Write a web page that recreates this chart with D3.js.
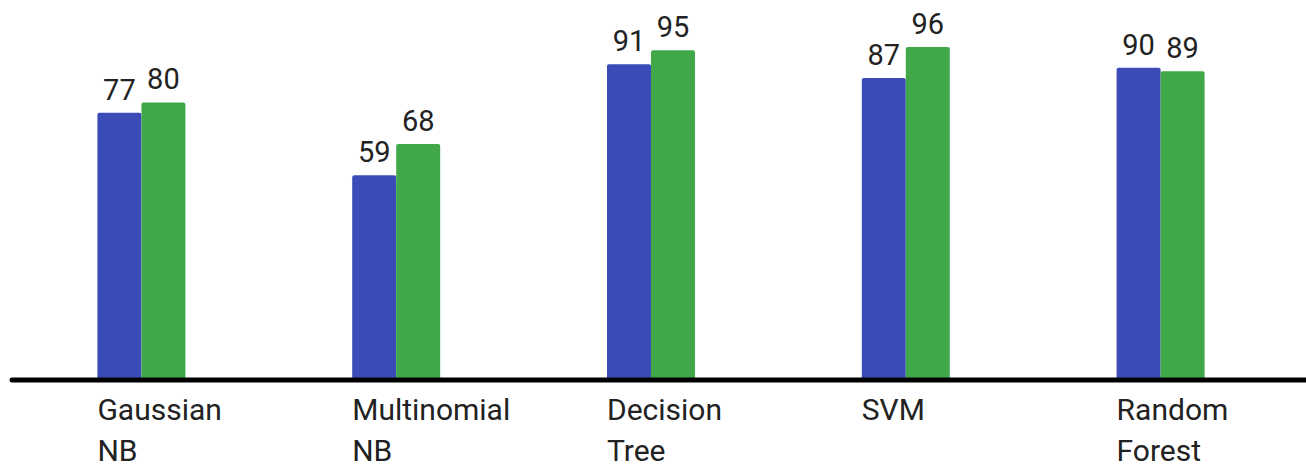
<!DOCTYPE html>
<html>
<head>
<meta charset="utf-8">
<script src="https://cdn.jsdelivr.net/npm/d3@7"></script>
<style>
  body { margin: 0; background: #fff; }
  svg { display: block; font-family: Roboto, "Noto Sans", sans-serif; }
</style>
</head>
<body>
<svg width="1306" height="468"></svg>
<script>
// chart data
const categories = [["Gaussian", "NB"], ["Multinomial", "NB"], ["Decision", "Tree"], ["SVM"], ["Random", "Forest"]];
const seriesNames = ["a", "b"];
const seriesA = [77, 59, 91, 87, 90];
const seriesB = [80, 68, 95, 96, 89];
const colors = ["#3b4cb8", "#41a84a"];

const svg = d3.select("svg");
const w = 1306, h = 468;
const base = 380;

const keys = categories.map(c => c.join(" "));
const x0 = d3.scaleBand().domain(keys).range([14, 1288]);
const x1 = d3.scaleBand().domain(seriesNames).range([-44, 44]);
const y = d3.scaleLinear().domain([0, 100]).range([base, base - 347]);

const rows = keys.map((k, i) => ({ key: k, vals: [seriesA[i], seriesB[i]] }));

const groups = svg.selectAll("g.grp")
  .data(rows)
  .enter().append("g")
  .attr("class", "grp")
  .attr("transform", d => "translate(" + (x0(d.key) + x0.bandwidth() / 2) + ",0)");

groups.selectAll("rect")
  .data(d => d.vals.map((v, j) => ({ s: seriesNames[j], v: v, j: j })))
  .enter().append("rect")
  .attr("x", d => x1(d.s))
  .attr("y", d => y(d.v))
  .attr("width", x1.bandwidth())
  .attr("height", d => y(0) - y(d.v))
  .attr("rx", 2)
  .attr("fill", d => colors[d.j]);

groups.selectAll("text.val")
  .data(d => d.vals.map((v, j) => ({ s: seriesNames[j], v: v })))
  .enter().append("text")
  .attr("class", "val")
  .attr("x", d => x1(d.s) + x1.bandwidth() / 2)
  .attr("y", d => y(d.v) - 13)
  .attr("text-anchor", "middle")
  .attr("font-size", 29)
  .attr("fill", "#222")
  .text(d => d.v);

// baseline
svg.append("line")
  .attr("x1", 12).attr("x2", w)
  .attr("y1", base).attr("y2", base)
  .attr("stroke", "#000")
  .attr("stroke-width", 5)
  .attr("stroke-linecap", "round");

// category labels, left aligned with first bar
const labels = groups.append("text")
  .attr("x", x1(seriesNames[0]))
  .attr("y", 420)
  .attr("font-size", 30)
  .attr("fill", "#222");

labels.selectAll("tspan")
  .data((d, i) => categories[i])
  .enter().append("tspan")
  .attr("x", x1(seriesNames[0]))
  .attr("dy", (d, i) => i == 0 ? 0 : 41)
  .text(d => d);
</script>
</body>
</html>
